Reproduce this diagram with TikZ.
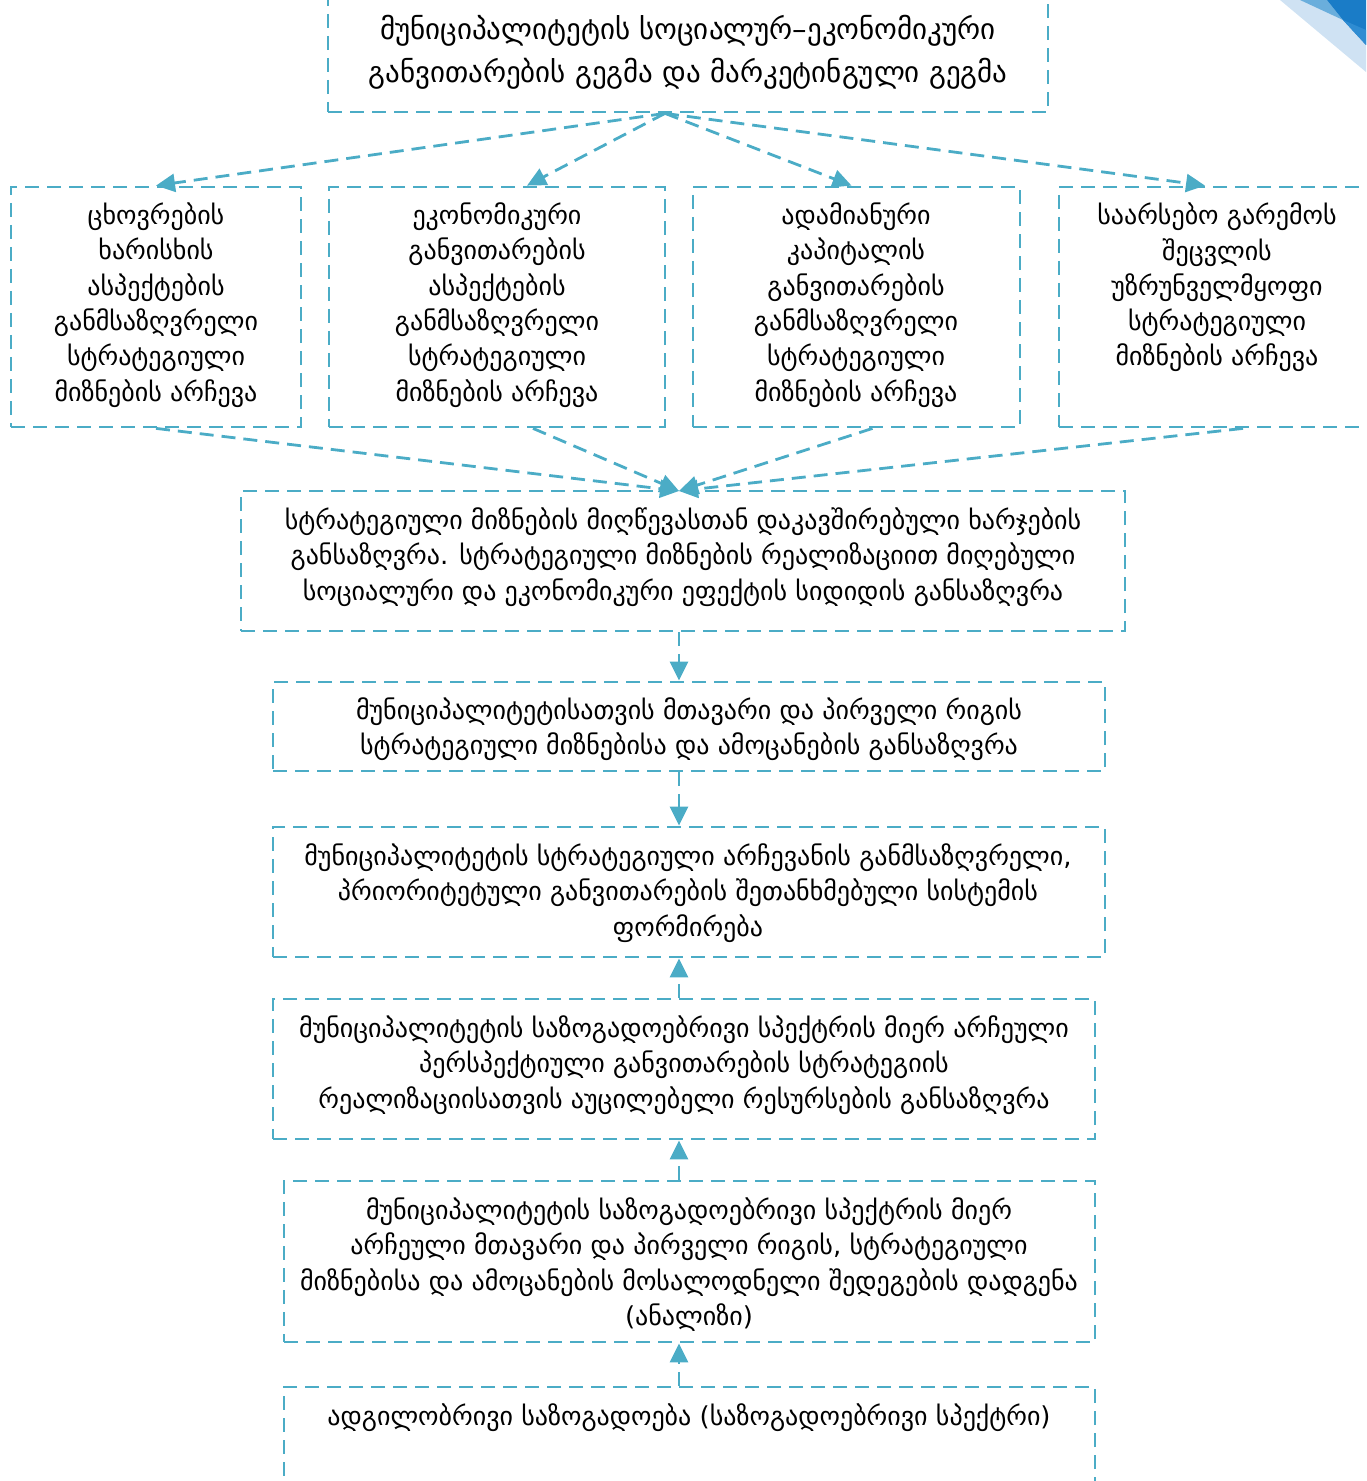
\documentclass[tikz,border=0pt]{standalone}
\usepackage{fontspec}
\setmainfont{DejaVu Sans}
\usetikzlibrary{arrows.meta,fit,calc}
\definecolor{ln}{RGB}{75,172,198}
\definecolor{decoA}{RGB}{207,226,243}
\definecolor{decoB}{RGB}{106,174,220}
\definecolor{decoC}{RGB}{26,124,199}
\definecolor{decoD}{RGB}{47,140,210}
\begin{document}
\begin{tikzpicture}[x=0.5pt,y=-0.5pt,
  box/.style={draw=ln, line width=1.4pt, dash pattern=on 7pt off 4pt, inner sep=0pt},
  txt/.style={align=center, font=\fontsize{13}{17.65}\selectfont, inner sep=0pt},
  bigtxt/.style={align=center, font=\fontsize{14.5}{21.5}\selectfont, inner sep=0pt},
  arr/.style={draw=ln, line width=1.4pt, dash pattern=on 7pt off 4pt, -{Triangle[length=9.5pt,width=9pt,fill=ln]}}]
\useasboundingbox (0,0) rectangle (1366,1481);
\clip (0,0) rectangle (1366,1481);
% decoration top right
\fill[decoA] (1280,0) -- (1366,0) -- (1366,72) -- cycle;
\fill[decoB] (1300,0) -- (1327,0) -- (1343,20) -- cycle;
\fill[decoC] (1327,0) -- (1366,0) -- (1366,45) -- (1343,20) -- cycle;
\fill[decoD] (1343,20) -- (1366,30) -- (1366,45) -- cycle;
% boxes
\node[box, fit={(328,-9)(1048,112)}] (T) {};
\node[box, fit={(11,187)(301,427)}] (A) {};
\node[box, fit={(329,187)(665,427)}] (B) {};
\node[box, fit={(693,187)(1020,427)}] (C) {};
\node[box, fit={(1059,187)(1375,427)}] (D) {};
\node[box, fit={(241,491)(1125,631)}] (E) {};
\node[box, fit={(273,682)(1105,771)}] (F) {};
\node[box, fit={(273,827)(1105,957)}] (G) {};
\node[box, fit={(273,999)(1095,1139)}] (H) {};
\node[box, fit={(284,1181)(1095,1342)}] (I) {};
\node[box, fit={(284,1387)(1095,1560)}] (J) {};
% texts
\node[bigtxt] (Tt) at (688,52) {მუნიციპალიტეტის სოციალურ–ეკონომიკური\\განვითარების გეგმა და მარკეტინგული გეგმა};
\node[txt] (At) at (156,305) {ცხოვრების\\ხარისხის\\ასპექტების\\განმსაზღვრელი\\სტრატეგიული\\მიზნების არჩევა};
\node[txt] (Bt) at (497,305) {ეკონომიკური\\განვითარების\\ასპექტების\\განმსაზღვრელი\\სტრატეგიული\\მიზნების არჩევა};
\node[txt] (Ct) at (856,305) {ადამიანური\\კაპიტალის\\განვითარების\\განმსაზღვრელი\\სტრატეგიული\\მიზნების არჩევა};
\node[txt] (Dt) at (1217,287.5) {საარსებო გარემოს\\შეცვლის\\უზრუნველმყოფი\\სტრატეგიული\\მიზნების არჩევა};
\node[txt] (Et) at (683,557) {სტრატეგიული მიზნების მიღწევასთან დაკავშირებული ხარჯების\\განსაზღვრა. სტრატეგიული მიზნების რეალიზაციით მიღებული\\სოციალური და ეკონომიკური ეფექტის სიდიდის განსაზღვრა};
\node[txt] (Ft) at (689,729.5) {მუნიციპალიტეტისათვის მთავარი და პირველი რიგის\\სტრატეგიული მიზნებისა და ამოცანების განსაზღვრა};
\node[txt] (Gt) at (688,893) {მუნიციპალიტეტის სტრატეგიული არჩევანის განმსაზღვრელი,\\პრიორიტეტული განვითარების შეთანხმებული სისტემის\\ფორმირება};
\node[txt] (Ht) at (684,1065) {მუნიციპალიტეტის საზოგადოებრივი სპექტრის მიერ არჩეული\\პერსპექტიული განვითარების სტრატეგიის\\რეალიზაციისათვის აუცილებელი რესურსების განსაზღვრა};
\node[txt] (It) at (689,1264.5) {მუნიციპალიტეტის საზოგადოებრივი სპექტრის მიერ\\არჩეული მთავარი და პირველი რიგის, სტრატეგიული\\მიზნებისა და ამოცანების მოსალოდნელი შედეგების დადგენა\\(ანალიზი)};
\node[txt] (Jt) at (689,1418) {ადგილობრივი საზოგადოება (საზოგადოებრივი სპექტრი)};
% connectors
\coordinate (X) at (679,0);
\coordinate (Ein) at (679,491);
\draw[arr] ([xshift=-11.5pt]T.south) -- (A.north);
\draw[arr] ([xshift=-11.5pt]T.south) -- ([xshift=15pt]B.north);
\draw[arr] ([xshift=-11.5pt]T.south) -- ([xshift=-2.5pt]C.north);
\draw[arr] ([xshift=-11.5pt]T.south) -- ([xshift=-6pt]D.north);
\draw[arr] (A.south) -- (Ein);
\draw[arr] ([xshift=18pt]B.south) -- (Ein);
\draw[arr] ([xshift=8pt]C.south) -- (Ein);
\draw[arr] ([xshift=13pt]D.south) -- (Ein);
\draw[arr] (E.south -| X) -- (F.north -| X);
\draw[arr] (F.south -| X) -- (G.north -| X);
\draw[arr] (H.north -| X) -- (G.south -| X);
\draw[arr] (I.north -| X) -- (H.south -| X);
\draw[arr] (J.north -| X) -- (I.south -| X);
\draw[ln, line width=1.4pt] (J.north -| X) -- ++(0,-10);
\end{tikzpicture}
\end{document}
